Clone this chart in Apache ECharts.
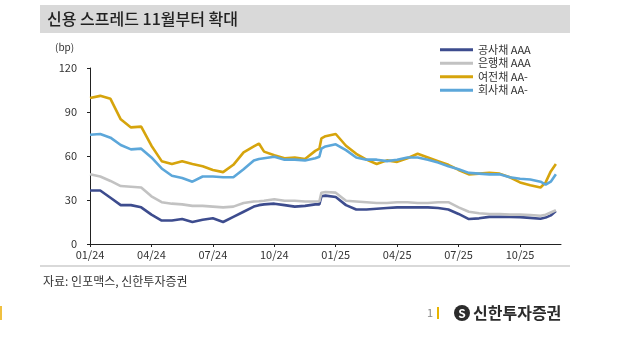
<!DOCTYPE html>
<html>
<head>
<meta charset="utf-8">
<script src="https://cdn.jsdelivr.net/npm/echarts@6/dist/echarts.min.js"></script>
<style>
  html, body { margin: 0; padding: 0; background: #ffffff; }
  #chart { width: 622px; height: 343px; }
</style>
</head>
<body>
<div id="chart"></div>
<script>
// Months elapsed since January 2024 (half-month sampling, extra points around sharp moves)
const months = [
  0, 0.5, 1, 1.5, 2, 2.5, 3, 3.5, 4, 4.5, 5, 5.5, 6, 6.5, 7, 7.5, 8, 8.25, 8.5, 9, 9.5, 10, 10.5,
  11, 11.2, 11.3, 11.5, 12, 12.5, 13, 13.5, 14, 14.5, 15, 15.5, 16, 16.5, 17, 17.5, 18, 18.5,
  19, 19.5, 20, 20.5, 21, 21.5, 22, 22.25, 22.5, 22.75
];

// Credit spreads (bp)
const publicAAA = [
  36.5, 36.5, 31.5, 26.5, 26.5, 25, 20, 16, 16, 17, 15, 16.5, 17.5, 15, 18.5, 22, 25.5, 26.5, 27, 27.5, 26.5, 25.5, 26,
  27, 27, 32.5, 33, 32, 26.5, 23.5, 23.5, 24, 24.5, 25, 25, 25, 25, 24.5, 23.5, 20.5, 17,
  17.5, 18.5, 18.5, 18.5, 18.3, 17.8, 17.2, 18, 19.5, 22.5
];
const bankAAA = [
  47.5, 46, 43, 39.5, 39, 38.5, 32.5, 28.5, 27.5, 27, 26, 26, 25.5, 25, 25.5, 28, 29, 29.2, 29.5, 30.5, 29.5, 29.5, 29,
  29, 29, 35, 35.5, 35, 29.5, 29, 28.5, 28, 28, 28.5, 28.5, 28, 28, 28.5, 28.5, 25, 22,
  21, 20.5, 20.5, 20, 20, 19.8, 19.3, 20, 21.5, 23
];
const financeAAminus = [
  99.5, 101, 99, 85, 79.5, 80, 67, 56.5, 54.5, 56.5, 54.5, 53, 50.5, 49, 54, 62.5, 66.5, 68.5, 63, 60.5, 58.5, 59, 58,
  63.5, 65, 72, 73.5, 75, 67, 61.5, 57.5, 54.5, 57, 56, 58.5, 61.5, 59, 56.5, 54, 50.5, 47.5,
  48, 48.5, 48, 45.5, 42, 40, 38.5, 42, 49.5, 54.5
];
const corpAAminus = [
  74.5, 75, 72.5, 67.5, 64.5, 65, 59, 51.5, 46.5, 45, 42.5, 46, 46, 45.5, 45.5, 51, 57, 58, 58.5, 59.5, 57.5, 57.5, 57,
  58.5, 59.5, 65, 66.5, 68, 64, 59, 57.5, 57.5, 56.5, 57.5, 59, 59, 57.5, 55.5, 53, 51, 48.5,
  48, 47.5, 47.5, 45.5, 44.5, 44, 42.5, 40.5, 42.5, 47.5
];

const seriesNames = ['공사채 AAA', '은행채 AAA', '여전채 AA-', '회사채 AA-'];
const seriesColors = ['#3d4c8e', '#c2c2c2', '#d6a40c', '#5ca7da'];
const xTickLabels = ['01/24', '04/24', '07/24', '10/24', '01/25', '04/25', '07/25', '10/25'];
const yTicks = { min: 0, max: 120, step: 30 };

const FONT = '"Noto Sans CJK KR", "Noto Sans", sans-serif';
const toPairs = vals => months.map((m, i) => [m, vals[i]]);
const allValues = [publicAAA, bankAAA, financeAAminus, corpAAminus];

const chart = echarts.init(document.getElementById('chart'), null, { renderer: 'canvas' });

chart.setOption({
  animation: false,
  backgroundColor: '#ffffff',
  textStyle: { fontFamily: FONT },
  grid: { left: 90, right: 61, top: 68, bottom: 99 },
  legend: {
    orient: 'vertical',
    left: 435,
    top: 38,
    icon: 'rect',
    itemWidth: 33,
    itemHeight: 3,
    itemGap: 0,
    textStyle: { fontFamily: FONT, fontSize: 11, color: '#333333', lineHeight: 13.5 },
    data: seriesNames
  },
  xAxis: {
    type: 'value',
    min: 0,
    max: 23,
    interval: 3,
    splitLine: { show: false },
    axisLine: { lineStyle: { color: '#222222', width: 1 } },
    axisTick: { show: true, length: 3, lineStyle: { color: '#222222' } },
    axisLabel: {
      color: '#333333',
      fontSize: 11,
      fontFamily: FONT,
      margin: 5,
      showMaxLabel: false,
      formatter: v => (v % 3 === 0 ? (xTickLabels[v / 3] || '') : '')
    }
  },
  yAxis: {
    type: 'value',
    min: yTicks.min,
    max: yTicks.max,
    interval: yTicks.step,
    splitLine: { show: false },
    axisLine: { show: true, lineStyle: { color: '#222222', width: 1 } },
    axisTick: { show: true, length: 3, lineStyle: { color: '#222222' } },
    axisLabel: { color: '#333333', fontSize: 11, fontFamily: FONT, margin: 13 }
  },
  series: seriesNames.map((name, i) => ({
    name,
    type: 'line',
    data: toPairs(allValues[i]),
    showSymbol: false,
    symbol: 'none',
    color: seriesColors[i],
    lineStyle: { width: 2.6, color: seriesColors[i] },
    z: 2 + i
  })),
  graphic: [
    { type: 'rect', shape: { x: 40, y: 5, width: 530, height: 28 }, style: { fill: '#d9d9d9' }, silent: true },
    { type: 'text', x: 47, y: 19, style: { text: '신용 스프레드 11월부터 확대', font: '500 16px ' + FONT, fill: '#222222', textVerticalAlign: 'middle' } },
    { type: 'text', x: 55, y: 47, style: { text: '(bp)', font: '10px ' + FONT, fill: '#333333', textVerticalAlign: 'middle' } },
    { type: 'line', shape: { x1: 40, y1: 266, x2: 570, y2: 266 }, style: { stroke: '#d9d9d9', lineWidth: 2 } },
    { type: 'text', x: 43, y: 281, style: { text: '자료: 인포맥스, 신한투자증권', font: '12px ' + FONT, fill: '#333333', textVerticalAlign: 'middle' } },
    { type: 'rect', shape: { x: 0, y: 306, width: 2, height: 14 }, style: { fill: '#f0c040' } },
    { type: 'text', x: 427, y: 313, style: { text: '1', font: '11px ' + FONT, fill: '#888888', textVerticalAlign: 'middle' } },
    { type: 'rect', shape: { x: 437, y: 307, width: 2, height: 12 }, style: { fill: '#e8b400' } },
    { type: 'circle', shape: { cx: 462, cy: 313, r: 8 }, style: { fill: '#2b2b2b' } },
    { type: 'text', x: 462, y: 313, style: { text: 'S', font: 'bold 12px ' + FONT, fill: '#ffffff', textAlign: 'center', textVerticalAlign: 'middle' } },
    { type: 'text', x: 473, y: 313, style: { text: '신한투자증권', font: 'bold 16px ' + FONT, fill: '#2b2b2b', textVerticalAlign: 'middle' } }
  ]
});
</script>
</body>
</html>
